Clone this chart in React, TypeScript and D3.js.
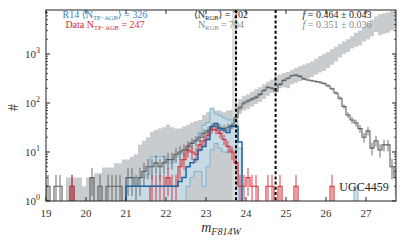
import * as d3 from 'd3'

const W = 407
const H = 244
const MARGIN = { top: 10, right: 11, bottom: 43, left: 46 }

// histogram bins: 0.1 mag from 19.0
const BIN_START = 19.0
const BIN_WIDTH = 0.1
const X_MAX = 27.75
const Y_MAX = 7900

const xTicks = [19, 20, 21, 22, 23, 24, 25, 26, 27]
const yDecades = [0, 1, 2, 3]

// all stars in the data (grey steps)
const allStars = [
  2, 0, 2, 2, 0, 0, 2, 0, 0, 0,
  0, 3, 0, 2, 0, 2, 2, 2, 2, 0,
  3, 3, 2, 3, 4, 5, 5, 6, 5, 6,
  7, 7, 9, 10, 11, 13, 15, 17, 20, 24,
  27, 33, 34, 31, 30, 32, 35, 50, 80, 100,
  110, 120, 130, 150, 180, 210, 200, 175, 240, 290,
  320, 360, 370, 350, 310, 295, 285, 275, 265, 250,
  225, 195, 160, 125, 85, 57, 45, 39, 30, 20,
  27, 12, 17, 11, 14, 14, 5, 3,
]

// model range (grey band)
const modelLo = [
  0, 0, 0, 0, 0, 0, 0, 0, 0, 0,
  0, 0, 0, 0, 0, 0, 0, 0, 0, 0,
  0, 0, 0, 0, 0, 0, 0, 0, 0, 0,
  0, 0, 0, 0, 0, 0, 0, 0, 0, 0,
  0, 0, 0, 0, 0, 0, 0, 50, 60, 70,
  75, 85, 95, 105, 120, 140, 160, 190, 200, 210,
  200, 240, 260, 280, 300, 320, 340, 380, 420, 450,
  520, 600, 700, 850, 1000, 1100, 1300, 1400, 1500, 1800,
  2000, 2300, 2800, 2400, 2600, 2700, 3000, 3300,
]
const modelHi = [
  0, 0, 0, 0, 0, 3, 3, 3, 3, 2,
  3, 3, 3.7, 3.7, 4.8, 4.8, 4.8, 5.9, 5.9, 7,
  7, 8, 9, 14, 17, 20, 26, 28, 30, 32,
  36, 32, 30, 30, 33, 36, 40, 43, 45, 57,
  65, 78, 70, 70, 65, 70, 72, 95, 120, 140,
  150, 170, 190, 210, 240, 270, 300, 350, 380, 410,
  430, 470, 520, 560, 600, 650, 700, 800, 900, 1000,
  1100, 1250, 1400, 1600, 1800, 2000, 2300, 2700, 3000, 3500,
  4200, 5000, 5800, 6500, 6800, 7000, 7500, 8000,
]

// R14 TP-AGB model: mean and range (blue)
const r14Mean = [
  0, 0, 0, 0, 0, 0, 0, 0, 0, 0,
  0, 0, 0, 0, 0, 0, 0, 0, 0, 0,
  2, 2, 2, 2, 2, 2, 2, 2, 2, 2,
  2, 2, 2, 2.5, 3, 5, 6, 7, 11, 13,
  18, 33, 38, 30, 28, 25, 33, 33, 16, 0,
]
const r14Lo = [
  0, 0, 0, 0, 0, 0, 0, 0, 0, 0,
  0, 0, 0, 0, 0, 0, 0, 0, 0, 0,
  0, 0, 0, 0, 0, 0, 0, 0, 0, 0,
  0, 0, 0, 0, 0, 2, 3, 4, 4, 2,
  5, 11, 15, 12, 10, 10, 11, 11, 0, 0,
]
const r14Hi = [
  0, 0, 0, 0, 0, 0, 0, 0, 0, 0,
  0, 0, 0, 0, 0, 0, 0, 0, 0, 0,
  3, 3, 3, 3, 3, 3.5, 8, 8, 8, 8,
  6, 6, 8, 9, 11, 12, 16, 18, 25, 35,
  40, 78, 60, 55, 50, 45, 45, 45, 12, 0,
  0, 0, 0, 0, 0, 0, 0, 0, 0, 0,
  0, 0, 0, 0, 0, 0, 0, 0, 0, 0,
  0, 0, 0, 0, 0, 0, 0, 2, 0, 0,
]

// TP-AGB stars in the data (red)
const tpagbData = [
  0, 0, 0, 0, 0, 0, 2, 0, 0, 0,
  0, 0, 0, 0, 0, 0, 0, 0, 0, 0,
  0, 0, 0, 0, 0, 0, 2, 2, 2, 2,
  3, 2, 2, 5, 7, 11, 10, 9, 14, 17,
  22, 29, 28, 24, 18, 13, 10, 6, 2, 2,
  3, 2, 2, 0, 0, 2, 2, 0, 2, 0,
  0, 0, 2, 0, 0, 0, 0, 0, 0, 0,
  0, 2,
]

const trgbBand = [23.65, 23.78]
const dashedMags = [23.75, 24.74]

const GREY_FILL = '#c9cccf'
const GREY_LINE = '#5e5e5e'
const BLUE = '#1f65a3'
const BLUE_TEXT = '#3a7fbf'
const BLUE_FILL = '#c7dde9'
const BLUE_EDGE = '#78acd0'
const RED = '#d52b35'
const FONT = '"Liberation Serif", "DejaVu Serif", serif'

export default function App() {
  const left = MARGIN.left
  const right = W - MARGIN.right
  const top = MARGIN.top
  const bottom = H - MARGIN.bottom
  const FLOOR = bottom + 6

  const x = d3.scaleLinear().domain([BIN_START, X_MAX]).range([left, right])
  const y = d3.scaleLog().domain([1, Y_MAX]).range([bottom, top])
  const edge = (i: number) => x(BIN_START + i * BIN_WIDTH)
  const yv = (v: number) => (v > 0 ? y(v) : FLOOR)

  const stepPath = (vals: number[]) => {
    const pts: [number, number][] = [[edge(0), FLOOR]]
    vals.forEach((v, i) => {
      pts.push([edge(i), yv(v)], [edge(i + 1), yv(v)])
    })
    pts.push([edge(vals.length), FLOOR])
    return d3.line()(pts) || ''
  }

  const bandPath = (lo: number[], hi: number[]) => {
    const pts: [number, number, number][] = []
    hi.forEach((h, i) => {
      const l = lo[i] || 0
      pts.push([edge(i), yv(l), yv(h)], [edge(i + 1), yv(l), yv(h)])
    })
    return (
      d3
        .area<[number, number, number]>()
        .x((d) => d[0])
        .y0((d) => d[1])
        .y1((d) => d[2])(pts) || ''
    )
  }

  const errorBars = (vals: number[], color: string, w: number) =>
    vals.map((v, i) => {
      if (v <= 0) return null
      const cx = (edge(i) + edge(i + 1)) / 2
      const e = Math.sqrt(v)
      return (
        <line
          key={i}
          x1={cx}
          x2={cx}
          y1={yv(v - e)}
          y2={y(v + e)}
          stroke={color}
          strokeWidth={w}
        />
      )
    })

  const minor: number[] = []
  yDecades.forEach((d) => {
    for (let k = 2; k <= 9; k++) {
      const v = k * Math.pow(10, d)
      if (v < Y_MAX) minor.push(v)
    }
  })

  return (
    <svg
      width={W}
      height={H}
      style={{ position: 'absolute', left: 0, top: 0, background: '#fff' }}
      fontFamily={FONT}
    >
      <defs>
        <clipPath id="plot">
          <rect x={left} y={top} width={right - left} height={bottom - top} />
        </clipPath>
      </defs>

      <g clipPath="url(#plot)">
        {/* model range */}
        <path d={bandPath(modelLo, modelHi)} fill={GREY_FILL} />
        {/* TRGB uncertainty */}
        <rect
          x={x(trgbBand[0])}
          y={top}
          width={x(trgbBand[1]) - x(trgbBand[0])}
          height={bottom - top}
          fill="#d8d8d8"
          opacity={0.8}
        />
        {/* R14 range */}
        <path
          d={bandPath(r14Lo, r14Hi)}
          fill={BLUE_FILL}
          fillOpacity={0.85}
          stroke={BLUE_EDGE}
          strokeWidth={0.9}
        />
        {/* all data */}
        <path d={stepPath(allStars)} fill="none" stroke={GREY_LINE} strokeWidth={1.1} />
        {errorBars(allStars, GREY_LINE, 0.9)}
        {/* TP-AGB data */}
        <path d={stepPath(tpagbData)} fill="none" stroke={RED} strokeWidth={1.1} />
        {errorBars(tpagbData, RED, 0.9)}
        {/* R14 mean */}
        <path d={stepPath(r14Mean)} fill="none" stroke={BLUE} strokeWidth={1.5} />
        {dashedMags.map((m) => (
          <line
            key={m}
            x1={x(m)}
            x2={x(m)}
            y1={top}
            y2={bottom}
            stroke="#000"
            strokeWidth={2}
            strokeDasharray="3,2.2"
          />
        ))}
      </g>

      {/* frame and ticks */}
      <rect x={left} y={top} width={right - left} height={bottom - top} fill="none" stroke="#222" strokeWidth={1} />
      {xTicks.map((t) => (
        <g key={t}>
          <line x1={x(t)} x2={x(t)} y1={bottom} y2={bottom - 4} stroke="#222" />
          <line x1={x(t)} x2={x(t)} y1={top} y2={top + 4} stroke="#222" />
          <text x={x(t)} y={bottom + 16} textAnchor="middle" fontSize={11} fill="#333">
            {t}
          </text>
        </g>
      ))}
      {yDecades.map((d) => (
        <g key={d}>
          <line x1={left} x2={left + 4} y1={y(10 ** d)} y2={y(10 ** d)} stroke="#222" />
          <line x1={right} x2={right - 4} y1={y(10 ** d)} y2={y(10 ** d)} stroke="#222" />
          <text x={left - 6} y={y(10 ** d) + 4} textAnchor="end" fontSize={11} fill="#333">
            10<tspan dy={-5} fontSize={8}>{d}</tspan>
          </text>
        </g>
      ))}
      {minor.map((v) => (
        <g key={v}>
          <line x1={left} x2={left + 2} y1={y(v)} y2={y(v)} stroke="#222" strokeWidth={0.8} />
          <line x1={right} x2={right - 2} y1={y(v)} y2={y(v)} stroke="#222" strokeWidth={0.8} />
        </g>
      ))}

      {/* axis labels */}
      <text x={221} y={232} textAnchor="middle" fontSize={14} fontStyle="italic" fill="#333">
        m<tspan dy={3} fontSize={10}>F814W</tspan>
      </text>
      <text
        transform={`translate(18, ${(top + bottom) / 2 + 2}) rotate(-90)`}
        textAnchor="middle"
        fontSize={14}
        fill="#333"
      >
        #
      </text>

      {/* annotations */}
      <text x={105} y={18} textAnchor="middle" fontSize={10} fill={BLUE_TEXT}>
        R14 ⟨N<tspan dy={2} fontSize={6.5}>TP−AGB</tspan>
        <tspan dy={-2}>⟩ = 326</tspan>
      </text>
      <text x={105} y={28} textAnchor="middle" fontSize={10} fill={RED}>
        Data N<tspan dy={2} fontSize={6.5}>TP−AGB</tspan>
        <tspan dy={-2}> = 247</tspan>
      </text>
      <text x={221} y={18} textAnchor="middle" fontSize={10} fill="#222">
        ⟨N<tspan dy={2} fontSize={6.5}>RGB</tspan>
        <tspan dy={-2}>⟩ = 702</tspan>
      </text>
      <text x={221} y={28} textAnchor="middle" fontSize={10} fill="#888">
        N<tspan dy={2} fontSize={6.5}>RGB</tspan>
        <tspan dy={-2}> = 704</tspan>
      </text>
      <text x={337} y={18} textAnchor="middle" fontSize={10} fill="#222">
        <tspan fontStyle="italic">f</tspan> = 0.464 ± 0.043
      </text>
      <text x={337} y={28} textAnchor="middle" fontSize={10} fill="#888">
        <tspan fontStyle="italic">f</tspan> = 0.351 ± 0.036
      </text>
      <text x={364} y={191} textAnchor="middle" fontSize={12} fill="#222">
        UGC4459
      </text>
    </svg>
  )
}
